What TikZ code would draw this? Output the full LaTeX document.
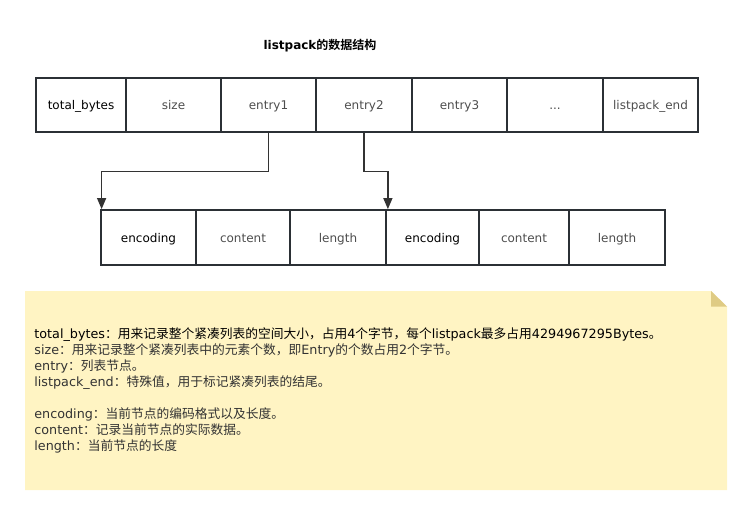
\documentclass[tikz,border=0pt]{standalone}
\usepackage{fontspec}
\setmainfont{DejaVu Sans}
\newfontfamily\cjk{Noto Sans CJK SC}[BoldFont={Noto Sans CJK SC Bold}]
\newcommand{\zh}[1]{{\cjk #1}}
\usepackage{xcolor}
\usetikzlibrary{arrows.meta,positioning}
\definecolor{cellline}{HTML}{2B3035}
\definecolor{cellgray}{HTML}{4D4D4D}
\definecolor{linkgray}{HTML}{333333}
\definecolor{notefill}{HTML}{FFF4C3}
\definecolor{notefold}{HTML}{DFCB84}
\definecolor{notegray}{HTML}{333333}

\begin{document}
\begin{tikzpicture}[x=1pt,y=-1pt,thick,
    cell/.style = {draw=cellline, line width=1.8pt, inner sep=0pt,
      text height=11pt, text depth=1.5pt,
      font=\fontsize{12}{14}\selectfont, text=cellgray},
    toprow/.style = {cell, minimum height=54pt},
    subrow/.style = {cell, minimum height=55pt},
    link/.style = {draw=linkgray, line width=1.3pt,
      -{Triangle[length=11pt,width=9pt]}},
    note/.style = {anchor=base west, inner sep=0pt,
      font=\fontsize{12.75}{16}\selectfont, text=notegray}]
      \useasboundingbox (0,0) rectangle (753,514);

      \node[font=\bfseries\fontsize{12}{14}\selectfont] (title) at (320,46) {listpack\zh{的数据结构}};

      % listpack
      \node[toprow, minimum width=90pt, text=black] (tb) at (81,105) {total\_bytes};
      \node[toprow, minimum width=95pt] (sz) at (173.5,105) {size};
      \node[toprow, minimum width=95pt] (e1) at (268.5,105) {entry1};
      \node[toprow, minimum width=96pt] (e2) at (364,105) {entry2};
      \node[toprow, minimum width=95pt] (e3) at (459.5,105) {entry3};
      \node[toprow, minimum width=96pt] (dots) at (555,105) {...};
      \node[toprow, minimum width=95pt] (lend) at (650.5,105) {listpack\_end};

      % entries
      \node[subrow, minimum width=95pt, text=black] (enc1) at (148.5,237.5) {encoding};
      \node[subrow, minimum width=94pt] (ct1) at (243,237.5) {content};
      \node[subrow, minimum width=96pt] (len1) at (338,237.5) {length};
      \node[subrow, minimum width=93pt, text=black] (enc2) at (432.5,237.5) {encoding};
      \node[subrow, minimum width=90pt] (ct2) at (524,237.5) {content};
      \node[subrow, minimum width=96pt] (len2) at (617,237.5) {length};

      \draw[link] (e1.south) -- ++(0,38.5) -| ([xshift=1.5pt]enc1.north west);
      \draw[link] (e2.south) -- ++(0,38.5) -| ([xshift=1pt]len1.north east);

      % note
      \fill[notefill] (25,291) -- (711,291) -- (727,307) -- (727,490) -- (25,490) -- cycle;
      \fill[notefold] (711,291) -- (711,306.5) -- (727,306.5) -- cycle;

      \node[note, text=black] (ntb) at (34,338.5) {total\_bytes\zh{：用来记录整个紧凑列表的空间大小，占用}4\zh{个字节，每个}listpack\zh{最多占用}4294967295Bytes\zh{。}};
      \node[note] (nsz) at (34,354.5) {size\zh{：用来记录整个紧凑列表中的元素个数，即}Entry\zh{的个数占用}2\zh{个字节。}};
      \node[note] (nen) at (34,370.5) {entry\zh{：列表节点。}};
      \node[note] (nle) at (34,386.5) {listpack\_end\zh{：特殊值，用于标记紧凑列表的结尾。}};

      \node[note] (nenc) at (34,418.5) {encoding\zh{：当前节点的编码格式以及长度。}};
      \node[note] (nct) at (34,434.5) {content\zh{：记录当前节点的实际数据。}};
      \node[note] (nlen) at (34,450.5) {length\zh{：当前节点的长度}};

    \end{tikzpicture}
\end{document}
